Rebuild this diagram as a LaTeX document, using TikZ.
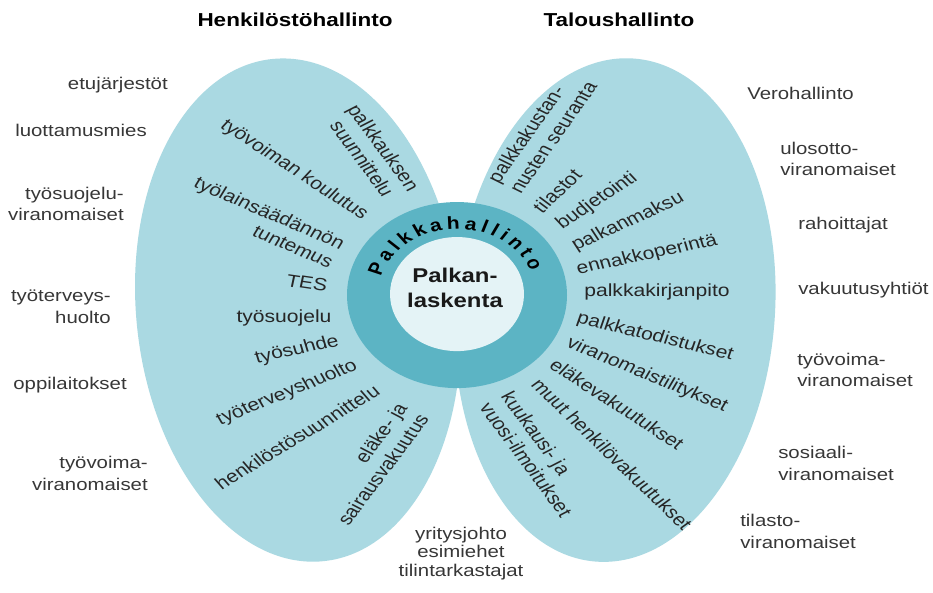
\documentclass[tikz,border=0pt]{standalone}
\usepackage{fontspec}
\setmainfont{Liberation Sans}
\usepackage{tikz}

\definecolor{leafblue}{RGB}{170,217,226}
\definecolor{ringblue}{RGB}{92,180,196}
\definecolor{coreblue}{RGB}{228,243,246}
\definecolor{outgray}{RGB}{55,55,55}
\definecolor{ingray}{RGB}{38,38,38}

\begin{document}
\begin{tikzpicture}[x=0.025cm, y=-0.03cm, xscale=1.2,
    every node/.append style={transform shape, inner sep=0pt},
    heading/.style = {font=\fontsize{16}{19}\selectfont\bfseries},
    outtext/.style = {text=outgray, font=\fontsize{14.5}{18.5}\selectfont},
    leftout/.style = {outtext, anchor=east, align=right},
    rightout/.style = {outtext, anchor=west, align=left},
    bottomout/.style = {outtext, align=center, font=\fontsize{14.5}{15.8}\selectfont},
    intext/.style = {text=ingray, font=\fontsize{15}{18}\selectfont},
    ringchar/.style = {anchor=base, font=\fontsize{15}{15}\selectfont\bfseries},
    core/.style = {align=center, text=black!90, font=\fontsize{17}{21}\selectfont\bfseries}]
  \fill[white] (0,0) rectangle (933,592);
  \useasboundingbox (0,0) rectangle (933,592);

  \fill[leafblue, rotate around={4:(298,310)}] (298,310) ellipse [x radius=162, y radius=252];
  \fill[leafblue, rotate around={-3:(615,310)}] (615,310) ellipse [x radius=160, y radius=252];
  \fill[ringblue] (457,295) ellipse [x radius=110, y radius=93];
  \fill[coreblue] (457,294) ellipse [x radius=67, y radius=57];

  \node (hr) [heading] at (295,20) {Henkilöstöhallinto};
  \node (fin) [heading] at (619,20) {Taloushallinto};

  \node (etu) [leftout] at (168,85) {etujärjestöt};
  \node (luott) [leftout] at (147,130) {luottamusmies};
  \node (tsviran) [leftout] at (124,204) {työsuojelu-\\viranomaiset};
  \node (tth) [leftout] at (111,307) {työterveys-\\huolto};
  \node (oppi) [leftout] at (127,385) {oppilaitokset};
  \node (tvviran) [leftout] at (148,473) {työvoima-\\viranomaiset};

  \node (vero) [rightout] at (747,93) {Verohallinto};
  \node (ulos) [rightout] at (780,159) {ulosotto-\\viranomaiset};
  \node (rahoit) [rightout] at (798,225) {rahoittajat};
  \node (vakuut) [rightout] at (798,290) {vakuutusyhtiöt};
  \node (tvr) [rightout] at (797,370) {työvoima-\\viranomaiset};
  \node (sos) [rightout] at (778,463) {sosiaali-\\viranomaiset};
  \node (tilasto) [rightout] at (740,531) {tilasto-\\viranomaiset};

  \node (johto) [bottomout] at (461,553) {yritysjohto\\esimiehet\\tilintarkastajat};

  \node (palkkaus) [intext, align=center, rotate=-58.3] at (373,153) {palkkauksen\\suunnittelu};
  \node (koulutus) [intext, rotate=-37.9] at (294,170) {työvoiman koulutus};
  \node (laki) [intext, align=right, rotate=-27] at (264,222) {työlainsäädännön\\tuntemus};
  \node (tes) [intext, rotate=-10] at (307,283) {TES};
  \node (suojelu) [intext] at (284,318) {työsuojelu};
  \node (suhde) [intext, rotate=14.3] at (297,350) {työsuhde};
  \node (terveys) [intext, rotate=25.9] at (287,393) {työterveyshuolto};
  \node (henkilosto) [intext, rotate=35.8] at (297,437) {henkilöstösuunnittelu};
  \node (elake) [intext, align=right, rotate=57.9] at (372,464) {eläke- ja\\sairausvakuutus};

  \node (kustannus) [intext, align=left, rotate=59.3] at (542,132) {palkkakustan-\\nusten seuranta};
  \node (tilastot) [intext, rotate=48.2] at (557,191) {tilastot};
  \node (budjetti) [intext, rotate=37.9] at (597,201) {budjetointi};
  \node (maksu) [intext, rotate=28.6] at (628,222) {palkanmaksu};
  \node (ennakko) [intext, rotate=14.3] at (647,255) {ennakkoperintä};
  \node (kirjanpito) [intext] at (657,292) {palkkakirjanpito};
  \node (todistus) [intext, rotate=-16.1] at (655,337) {palkkatodistukset};
  \node (tilitys) [intext, rotate=-26.3] at (647,375) {viranomaistilitykset};
  \node (elakevak) [intext, rotate=-37.9] at (617,404) {eläkevakuutukset};
  \node (muut) [intext, rotate=-49] at (612,454) {muut henkilövakuutukset};
  \node (ilmoitus) [intext, align=left, rotate=-58.3] at (537,454) {kuukausi- ja\\vuosi-ilmoitukset};

  \node (laskenta) [core] at (455,288) {Palkan-\\laskenta};
  \foreach \ch/\ang [count=\i] in {P/158.5, a/146.2, l/136.8, k/127.3, k/115.8, a/104.4, h/92.5,
                                   a/80.6, l/71.2, l/63.7, i/56.3, n/46.4, t/36.2, o/25.9}
    \node (ring\i) [ringchar, rotate=\ang-90] at ({457+79.2*cos(\ang)}, {295-66*sin(\ang)}) {\ch};
\end{tikzpicture}
\end{document}
